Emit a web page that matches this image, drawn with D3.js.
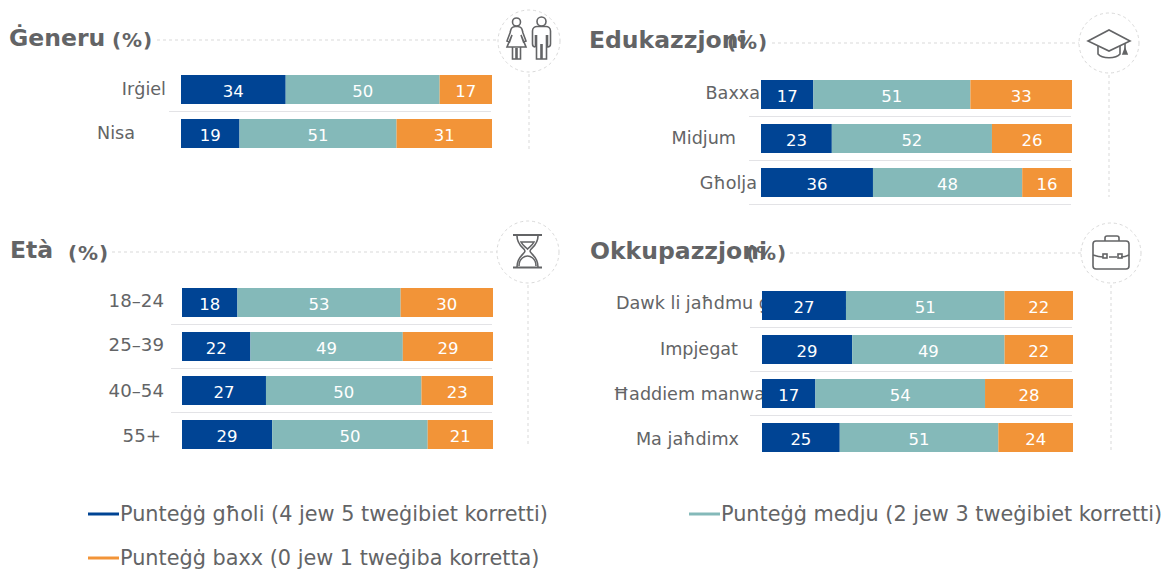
<!DOCTYPE html>
<html>
<head>
  <meta charset="utf-8">
  <title>Punteġġ</title>
  <script src="https://d3js.org/d3.v7.min.js"></script>
  <style>
    html, body { margin: 0; padding: 0; background: #fff; overflow: hidden; }
    svg { display: block; }
    text { font-family: "DejaVu Sans", Verdana, sans-serif; fill: #636466; }
    .title { font-weight: bold; font-size: 23.5px; }
    .unit { font-weight: bold; font-size: 20px; letter-spacing: 0.9px; }
    .label { font-size: 17.6px; }
    .value { font-size: 16.5px; fill: #fff; text-anchor: middle; }
    .legend { font-size: 20.8px; }
    .guide { fill: none; stroke: #d9d9d9; stroke-dasharray: 3 3; }
    .sep { stroke: #e3e3e6; stroke-width: 1.2px; }
    .icon { fill: none; stroke: #636466; stroke-width: 1.6px; }
  </style>
</head>
<body>
<script>
  // Values.
  const series = ["high", "mid", "low"];
  const seriesNames = [
    "Punteġġ għoli (4 jew 5 tweġibiet korretti)",
    "Punteġġ medju (2 jew 3 tweġibiet korretti)",
    "Punteġġ baxx (0 jew 1 tweġiba korretta)"
  ];

  const genderCats = ["Irġiel", "Nisa"];
  const genderHigh = [34, 19];
  const genderMid = [50, 51];
  const genderLow = [17, 31];

  const eduCats = ["Baxxa", "Midjum", "Għolja"];
  const eduHigh = [17, 23, 36];
  const eduMid = [51, 52, 48];
  const eduLow = [33, 26, 16];

  const ageCats = ["18–24", "25–39", "40–54", "55+"];
  const ageHigh = [18, 22, 27, 29];
  const ageMid = [53, 49, 50, 50];
  const ageLow = [30, 29, 23, 21];

  const jobCats = ["Dawk li jaħdmu għal rashom", "Impjegat", "Ħaddiem manwali", "Ma jaħdimx"];
  const jobHigh = [27, 29, 17, 25];
  const jobMid = [51, 49, 54, 51];
  const jobLow = [22, 22, 28, 24];

  const colors = d3.scaleOrdinal().domain(series).range(["#004494", "#84b9b9", "#f29438"]);

  const width = 1165;
  const height = 569;
  const barW = 311;
  const barH = 29;
  const barGap = 15;

  // Layout of each block. labelEnd is where each row label stops, labelDy nudges its baseline.
  const panels = [
    { title: "Ġeneru", titleX: 9, titleY: 46, unitX: 112, unitY: 47, cats: genderCats, high: genderHigh, mid: genderMid, low: genderLow,
      x: 181, y: 75, sepX: 169, labelEnd: [166, 135], labelDy: [0, 0], cx: 529, cy: 41, r: 31, guideStart: 157, guideY: 40, guideEnd: 150, icon: drawPeople },
    { title: "Edukazzjoni", titleX: 589, titleY: 48, unitX: 727, unitY: 49, cats: eduCats, high: eduHigh, mid: eduMid, low: eduLow,
      x: 761, y: 80, sepX: 749, labelEnd: [760, 736, 757], labelDy: [-1, 0, 1], cx: 1109, cy: 43, r: 30, guideStart: 772, guideY: 43, guideEnd: 197, icon: drawCap },
    { title: "Età", titleX: 10, titleY: 258, unitX: 68, unitY: 260, cats: ageCats, high: ageHigh, mid: ageMid, low: ageLow, labelSize: 18.2,
      x: 182, y: 288, sepX: 171, labelEnd: [164, 164, 164, 161], labelDy: [-1, -1, 1, 2], cx: 528, cy: 252, r: 31, guideStart: 112, guideY: 252, guideEnd: 447, icon: drawGlass },
    { title: "Okkupazzjoni", titleX: 590, titleY: 259, unitX: 746, unitY: 260, cats: jobCats, high: jobHigh, mid: jobMid, low: jobLow,
      x: 762, y: 291, sepX: 750, labelStart: [616, null, 613, null], labelEnd: [null, 738, null, 739], labelDy: [-2, 0, 1, 2], cx: 1111, cy: 253, r: 30, guideStart: 790, guideY: 253, guideEnd: 450, icon: drawCase }
  ];

  const svg = d3.select("body").append("svg")
      .attr("width", width)
      .attr("height", height);

  panels.forEach(function(p) {
    const g = svg.append("g");
    const rows = p.cats.map((c, i) => ({ cat: c, high: p.high[i], mid: p.mid[i], low: p.low[i], i: i }));
    const n = rows.length;

    const y = d3.scaleBand()
        .domain(p.cats)
        .range([p.y, p.y + n * barH + (n - 1) * barGap])
        .paddingInner(barGap / (barH + barGap));

    // Title, unit and the dashed guides with the icon circle.
    g.append("text").attr("class", "title").attr("x", p.titleX).attr("y", p.titleY).text(p.title);
    g.append("text").attr("class", "unit").attr("x", p.unitX).attr("y", p.unitY).text("(%)");
    g.append("line").attr("class", "guide")
        .attr("x1", p.guideStart).attr("x2", p.cx - p.r).attr("y1", p.guideY).attr("y2", p.guideY);
    g.append("line").attr("class", "guide")
        .attr("x1", p.cx).attr("x2", p.cx).attr("y1", p.cy + p.r + 2).attr("y2", p.guideEnd);
    g.append("circle").attr("class", "guide").attr("cx", p.cx).attr("cy", p.cy).attr("r", p.r);
    p.icon(g.append("g").attr("class", "icon").attr("transform", `translate(${p.cx},${p.cy})`));

    // Row labels go first, the bars cover whatever runs too long.
    g.selectAll(".label").data(rows).enter().append("text")
        .attr("class", "label")
        .attr("x", d => p.labelStart && p.labelStart[d.i] != null ? p.labelStart[d.i] : p.labelEnd[d.i])
        .attr("y", d => y(d.cat) + barH / 2 + 5.5 + p.labelDy[d.i])
        .style("text-anchor", d => p.labelStart && p.labelStart[d.i] != null ? "start" : "end")
        .style("font-size", p.labelSize ? p.labelSize + "px" : null)
        .text(d => d.cat);

    // Separator under each row, except the last where the picture has none.
    g.selectAll(".sep").data(rows.filter(d => p.cats.length === 3 || d.i < n - 1)).enter().append("line")
        .attr("class", "sep")
        .attr("x1", p.sepX).attr("x2", p.x + barW - 1)
        .attr("y1", d => y(d.cat) + barH + 7.5).attr("y2", d => y(d.cat) + barH + 7.5);

    // Each row fills the full width, its own total sets the scale.
    rows.forEach(function(r) {
      const x = d3.scaleLinear().domain([0, r.high + r.mid + r.low]).range([p.x, p.x + barW]);
      const stacked = d3.stack().keys(series)([r]);
      const row = g.append("g");
      row.selectAll("rect").data(stacked).enter().append("rect")
          .attr("x", d => x(d[0][0]))
          .attr("y", y(r.cat))
          .attr("width", d => x(d[0][1]) - x(d[0][0]))
          .attr("height", y.bandwidth())
          .attr("fill", d => colors(d.key));
      row.selectAll("text").data(stacked).enter().append("text")
          .attr("class", "value")
          .attr("x", d => (x(d[0][0]) + x(d[0][1])) / 2)
          .attr("y", y(r.cat) + barH / 2 + 7)
          .text(d => d[0][1] - d[0][0]);
    });
  });

  // Legend
  const legendPos = [[88, 514], [689, 514], [88, 558]];
  seriesNames.forEach(function(name, i) {
    const l = svg.append("g").attr("transform", `translate(${legendPos[i][0]},${legendPos[i][1]})`);
    l.append("line").attr("x1", 0).attr("x2", 31).attr("stroke", colors(series[i])).attr("stroke-width", 3);
    l.append("text").attr("class", "legend").attr("x", 32).attr("y", 7).text(name);
  });

  // Icons, drawn around the circle centre.
  function drawPeople(g) {
    g.append("circle").attr("cx", -12.5).attr("cy", -19).attr("r", 4);
    g.append("path").attr("d", "M-14 -14.5 C-18 -14 -18 -12 -19 -8 L-22 0 L-19.5 1 L-17 -6 L-22 6 L-3 6 L-8 -6 L-5.5 1 L-3 0 L-6 -8 C-7 -12 -7 -14 -11 -14.5 Z");
    g.append("path").attr("d", "M-16.5 6 V18 H-13 V7 M-12 7 V18 H-8.5 V6");
    g.append("circle").attr("cx", 12.5).attr("cy", -19.5).attr("r", 4.5);
    g.append("path").attr("d", "M6.5 6 C4.5 6 3.5 5 3.5 3 V-10 C3.5 -13 6 -14.5 8 -14.5 H17 C19 -14.5 21.5 -13 21.5 -10 V3 C21.5 5 20.5 6 18.5 6 V-6 M6.5 -6 V6");
    g.append("path").attr("d", "M7.5 -6 V18 H12 V3 M13 3 V18 H17.5 V-6");
  }

  function drawCap(g) {
    g.append("path").attr("d", "M-21 -2 L0 -13 L21 -2 L0 8 Z");
    g.append("path").attr("d", "M-11 3 V11 C-7 16 7 16 11 11 V3");
    g.append("path").attr("d", "M16 0 V7");
    g.append("path").attr("d", "M14 11 L16 6 L18 11 Z").style("fill", "#636466");
  }

  function drawGlass(g) {
    g.append("path").attr("d", "M-15 -17 H14 M-15 15.5 H14").style("stroke-width", "2px");
    g.append("path").attr("d", "M-11 -16 C-11 -6 -3 -4 -3 -1 C-3 2 -11 4 -11 15 M10 -16 C10 -6 2 -4 2 -1 C2 2 10 4 10 15");
    g.append("path").attr("d", "M-7 -10 H6 C4 -6 1 -5 -0.5 -3 C-2 -5 -5 -6 -7 -10 Z");
    g.append("path").attr("d", "M-9 14 C-9 6 -3 4 -0.5 4 C2 4 8 6 8 14");
  }

  function drawCase(g) {
    g.append("rect").attr("x", -18).attr("y", -12).attr("width", 36).attr("height", 28).attr("rx", 3);
    g.append("path").attr("d", "M-18 2 C-12 4 -12 4 -8 4 M-2 4 H6 M10 4 C13 4 14 4 18 2");
    g.append("rect").attr("x", -8).attr("y", 1).attr("width", 4).attr("height", 4);
    g.append("rect").attr("x", 7).attr("y", 1).attr("width", 4).attr("height", 4);
    g.append("path").attr("d", "M-6 -12 V-15 C-6 -16 -5 -17 -4 -17 H6 C7 -17 8 -16 8 -15 V-12");
  }
</script>
</body>
</html>
